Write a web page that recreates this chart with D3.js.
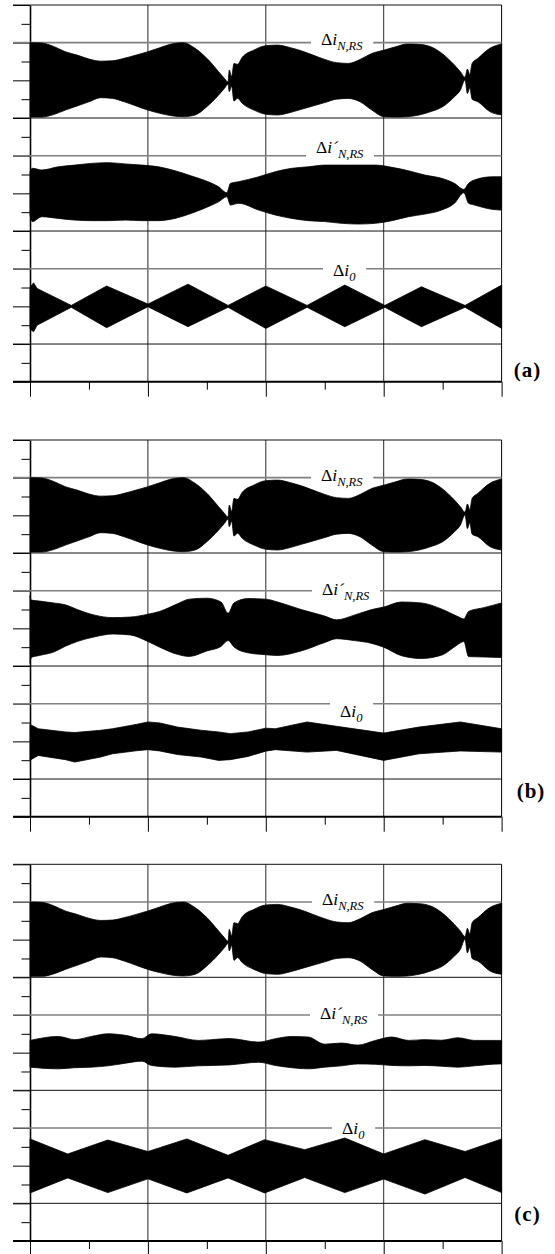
<!DOCTYPE html>
<html>
<head>
<meta charset="utf-8">
<script src="https://cdn.jsdelivr.net/npm/d3@7"></script>
<style>
  body { margin: 0; background: #fff; }
</style>
</head>
<body>
<svg id="chart" width="555" height="1254"></svg>
<script>
// rows are [time division, upper envelope, lower envelope], envelopes in vertical divisions
// measured from the trace centre line

// Δi_N,RS - the same record in all three panels
const nrsTrace = [
  [0, 2.0, -1.95], [0.1, 1.98, -1.95], [0.2, 1.8, -1.82], [0.3, 1.52, -1.58],
  [0.4, 1.34, -1.36], [0.5, 1.13, -1.14], [0.6, 1.02, -0.92], [0.7, 1.04, -0.96],
  [0.8, 1.17, -1.14], [0.9, 1.34, -1.36], [1.0, 1.52, -1.58], [1.1, 1.73, -1.75],
  [1.2, 1.93, -1.88], [1.3, 2.0, -1.93], [1.4, 1.7, -1.84], [1.5, 1.17, -1.4],
  [1.6, 0.46, -0.78], [1.65, 0.1, -0.42], [1.68, -0.09, -0.2], [1.69, 0.55, -0.6],
  [1.71, 0.2, -0.3], [1.73, 0.9, -1.1], [1.76, 0.85, -0.95], [1.8, 1.22, -1.22],
  [1.9, 1.61, -1.58], [2.0, 1.84, -1.8], [2.1, 1.87, -1.84], [2.2, 1.75, -1.72],
  [2.3, 1.57, -1.54], [2.4, 1.34, -1.36], [2.5, 1.11, -1.18], [2.6, 0.94, -1.0],
  [2.7, 0.9, -0.96], [2.8, 1.11, -1.14], [2.9, 1.43, -1.58], [3.0, 1.6, -1.93],
  [3.1, 1.78, -1.95], [3.2, 1.93, -1.93], [3.3, 1.91, -1.84], [3.4, 1.78, -1.66],
  [3.5, 1.4, -1.4], [3.6, 0.81, -0.87], [3.65, 0.46, -0.52], [3.69, 0.16, 0.02],
  [3.71, 0.6, -0.7], [3.73, 0.3, -0.4], [3.75, 0.9, -1.0], [3.8, 1.17, -1.14],
  [3.9, 1.7, -1.66], [4.0, 1.93, -1.84]
];

// panel (a)
const nrsPrimeA = [
  [0, 1.15, -1.15], [0.02, 1.33, -1.5], [0.1, 1.24, -1.24], [0.24, 1.41, -1.33],
  [0.38, 1.5, -1.42], [0.52, 1.59, -1.45], [0.66, 1.63, -1.45], [0.81, 1.56, -1.42],
  [0.95, 1.5, -1.45], [1.09, 1.41, -1.45], [1.23, 1.2, -1.33], [1.37, 0.92, -1.06],
  [1.51, 0.62, -0.71], [1.6, 0.35, -0.45], [1.67, 0.03, -0.18], [1.7, 0.53, -0.62],
  [1.77, 0.62, -0.53], [1.94, 0.88, -0.89], [2.08, 1.15, -1.15], [2.22, 1.33, -1.33],
  [2.36, 1.41, -1.45], [2.5, 1.5, -1.5], [2.64, 1.5, -1.59], [2.78, 1.5, -1.63],
  [2.93, 1.5, -1.59], [3.07, 1.38, -1.45], [3.21, 1.2, -1.24], [3.35, 0.97, -1.1],
  [3.49, 0.8, -0.89], [3.6, 0.53, -0.53], [3.68, 0.21, 0.03], [3.72, 0.53, -0.53],
  [3.77, 0.71, -0.62], [3.92, 0.88, -0.85], [4.0, 0.88, -0.89]
];
const zeroSeqA = [
  [0, 1.0, -1.2], [0.03, 1.25, -1.35], [0.06, 0.95, -1.0], [0.35, 0.05, -0.05],
  [0.65, 1.08, -1.13], [1.0, 0.12, -0.02], [1.34, 1.18, -1.08], [1.68, 0.05, -0.05],
  [2.0, 1.08, -1.17], [2.35, 0.05, -0.05], [2.67, 1.13, -1.08], [3.01, 0.05, -0.05],
  [3.32, 1.04, -1.08], [3.69, 0.05, -0.05], [4.0, 1.13, -1.17]
];

// panel (b)
const nrsPrimeB = [
  [0, 1.75, -1.86], [0.01, 1.5, -1.55], [0.08, 1.45, -1.44], [0.2, 1.35, -1.26],
  [0.3, 1.25, -0.95], [0.4, 1.0, -0.7], [0.55, 0.7, -0.45], [0.7, 0.57, -0.3],
  [0.85, 0.6, -0.35], [1.0, 0.75, -0.7], [1.1, 0.9, -1.0], [1.25, 1.3, -1.38],
  [1.35, 1.55, -1.49], [1.5, 1.6, -1.2], [1.62, 1.4, -0.96], [1.68, 0.8, -0.65],
  [1.73, 1.35, -0.99], [1.85, 1.58, -1.3], [2.0, 1.55, -1.4], [2.1, 1.4, -1.44],
  [2.3, 1.0, -1.2], [2.5, 0.65, -0.75], [2.6, 0.45, -0.55], [2.75, 0.7, -0.65],
  [2.9, 1.0, -0.8], [3.0, 1.13, -1.0], [3.15, 1.4, -1.45], [3.32, 1.35, -1.6],
  [3.5, 1.0, -1.4], [3.62, 0.65, -0.9], [3.68, 0.5, -0.7], [3.72, 0.9, -1.5],
  [3.85, 1.1, -1.52], [4.0, 1.35, -1.55]
];
const zeroSeqB = [
  [0, 0.9, -1.0], [0.07, 0.67, -0.75], [0.3, 0.5, -0.97], [0.38, 0.47, -1.1],
  [0.6, 0.59, -0.83], [0.7, 0.67, -0.66], [0.9, 0.9, -0.5], [1.0, 1.03, -0.44],
  [1.1, 0.98, -0.51], [1.25, 0.76, -0.7], [1.45, 0.59, -0.83], [1.6, 0.5, -1.01],
  [1.7, 0.41, -0.97], [1.85, 0.5, -0.8], [2.0, 0.7, -0.52], [2.08, 0.67, -0.44],
  [2.35, 1.03, -0.57], [2.6, 0.8, -0.48], [3.0, 0.44, -1.01], [3.3, 0.76, -0.66],
  [3.65, 1.03, -0.51], [4.0, 0.67, -0.57]
];

// panel (c)
const nrsPrimeC = [
  [0, 0.65, -0.77], [0.24, 0.86, -0.86], [0.38, 0.69, -0.8], [0.52, 0.86, -0.77],
  [0.66, 1.0, -0.7], [0.81, 0.92, -0.56], [0.95, 0.74, -0.45], [1.03, 1.0, -0.68],
  [1.23, 0.86, -0.77], [1.43, 0.65, -0.7], [1.54, 0.69, -0.68], [1.69, 0.75, -0.65],
  [1.94, 0.56, -0.51], [2.08, 0.74, -0.68], [2.22, 0.86, -0.8], [2.36, 0.83, -0.86],
  [2.5, 0.45, -0.77], [2.64, 0.51, -0.7], [2.78, 0.4, -0.6], [2.93, 0.65, -0.62],
  [3.07, 0.83, -0.68], [3.21, 0.65, -0.7], [3.35, 0.69, -0.68], [3.49, 0.66, -0.72],
  [3.63, 0.79, -0.77], [3.77, 0.65, -0.7], [3.98, 0.65, -0.6], [4.0, 0.65, -0.6]
];
const zeroSeqC = [
  [0, 1.42, -1.45], [0.32, 0.62, -0.65], [0.66, 1.36, -1.43], [1.0, 0.75, -0.7],
  [1.33, 1.42, -1.45], [1.68, 0.55, -0.65], [1.99, 1.38, -1.45], [2.33, 0.85, -0.63],
  [2.67, 1.47, -1.43], [3.0, 0.62, -0.71], [3.35, 1.38, -1.51], [3.69, 0.75, -0.63],
  [4.0, 1.42, -1.43]
];

const panelTags = ["(a)", "(b)", "(c)"];
const panelTraces = [
  [nrsTrace, nrsPrimeA, zeroSeqA],
  [nrsTrace, nrsPrimeB, zeroSeqB],
  [nrsTrace, nrsPrimeC, zeroSeqC]
];
const traceCentres = [4, 10, 16];   // vertical division of each trace's zero line
const labelRows = [2, 8, 14];       // grey reference lines carrying the names
const blackRows = [0, 6, 12, 18];

const svg = d3.select("#chart");
const x = d3.scaleLinear().domain([0, 4]).range([30, 501.6]);
const panelTop = [5, 440, 864.3];
const panelH = 376.7;
const serif = "'Liberation Serif', 'Times New Roman', 'DejaVu Serif', serif";

// per-panel label placement (left edge of Δ, baseline offset from its line)
const labelX = [[321, 316, 333], [321, 322, 340], [322, 320, 342]];
const labelDy = [[2.5, -3, 7], [3, 4.5, 13], [3, 4, 6]];
const tagPos = [[527.5, 377], [531, 798], [527.5, 1221]];

panelTags.forEach((tag, p) => {
  const y = d3.scaleLinear().domain([0, 20]).range([panelTop[p], panelTop[p] + panelH]);
  const g = svg.append("g");

  // vertical grid
  g.selectAll(".vgrid")
    .data([1, 2, 3])
    .enter().append("line")
    .attr("x1", d => x(d)).attr("x2", d => x(d))
    .attr("y1", y(0)).attr("y2", y(20))
    .attr("stroke", "#111").attr("stroke-width", 0.9);

  g.append("line")
    .attr("x1", x(4)).attr("x2", x(4)).attr("y1", y(0)).attr("y2", y(20))
    .attr("stroke", "#000").attr("stroke-width", 1);

  // left ticks: long on even divisions, short on odd ones
  g.append("g")
    .attr("transform", `translate(${x(0)},0)`)
    .call(d3.axisLeft(y).tickValues(d3.range(0, 21, 2)).tickSize(17).tickSizeOuter(0).tickFormat(""))
    .call(a => a.select(".domain").attr("stroke-width", 1.6))
    .call(a => a.selectAll(".tick line").attr("stroke-width", 1));
  g.append("g")
    .attr("transform", `translate(${x(0)},0)`)
    .call(d3.axisLeft(y).tickValues(d3.range(1, 20, 2)).tickSize(8.5).tickFormat(""))
    .call(a => a.select(".domain").remove());

  // horizontal grid
  g.selectAll(".hgrid")
    .data(blackRows)
    .enter().append("line")
    .attr("x1", 13).attr("x2", x(4))
    .attr("y1", d => y(d)).attr("y2", d => y(d))
    .attr("stroke", "#111").attr("stroke-width", 1);

  g.selectAll(".lrow")
    .data(labelRows)
    .enter().append("line")
    .attr("x1", 13).attr("x2", x(4))
    .attr("y1", d => y(d)).attr("y2", d => y(d))
    .attr("stroke", "#808080").attr("stroke-width", 1.6);

  // bottom axis
  g.append("line")
    .attr("x1", 13).attr("x2", x(4)).attr("y1", y(20)).attr("y2", y(20))
    .attr("stroke", "#000").attr("stroke-width", 2);
  g.append("g")
    .attr("transform", `translate(0,${y(20)})`)
    .call(d3.axisBottom(x).tickValues([0, 1, 2, 3, 4]).tickSize(15).tickSizeOuter(0).tickFormat(""))
    .call(a => a.select(".domain").remove())
    .call(a => a.selectAll(".tick line").attr("stroke-width", 1));
  g.append("g")
    .attr("transform", `translate(0,${y(20)})`)
    .call(d3.axisBottom(x).tickValues([0.5, 1.5, 2.5, 3.5]).tickSize(8).tickFormat(""))
    .call(a => a.select(".domain").remove());

  // the three current records
  panelTraces[p].forEach((rows, k) => {
    const c = traceCentres[k];
    const area = d3.area()
      .x(d => x(d[0]))
      .y0(d => y(c - d[2]))
      .y1(d => y(c - d[1]))
      .curve(k === 2 ? d3.curveLinear : d3.curveMonotoneX);
    g.append("path")
      .datum(rows)
      .attr("d", area)
      .attr("fill", "#000")
      .attr("stroke", "#000")
      .attr("stroke-width", 0.8);
  });

  // names on the grey lines
  labelRows.forEach((row, k) => {
    const lg = g.append("g");
    const back = lg.append("rect").attr("fill", "#fff");
    const base = y(row) + labelDy[p][k];
    const t = lg.append("text")
      .attr("x", labelX[p][k]).attr("y", base)
      .attr("font-family", serif).attr("font-size", 17.5);
    t.append("tspan").text("Δ");
    t.append("tspan").attr("font-style", "italic").text(k === 1 ? "i´" : "i");
    t.append("tspan")
      .attr("font-style", "italic").attr("font-size", 12.5).attr("dy", 5)
      .text(k === 2 ? "0" : "N,RS");
    const bb = t.node().getBBox();
    back.attr("x", bb.x - 10).attr("width", bb.width + 20)
      .attr("y", y(row) - 2).attr("height", 4);
  });

  svg.append("text")
    .attr("x", tagPos[p][0]).attr("y", tagPos[p][1])
    .attr("text-anchor", "middle")
    .attr("font-family", serif).attr("font-weight", "bold")
    .attr("font-size", 21).attr("letter-spacing", 1)
    .text(tag);
});
</script>
</body>
</html>
